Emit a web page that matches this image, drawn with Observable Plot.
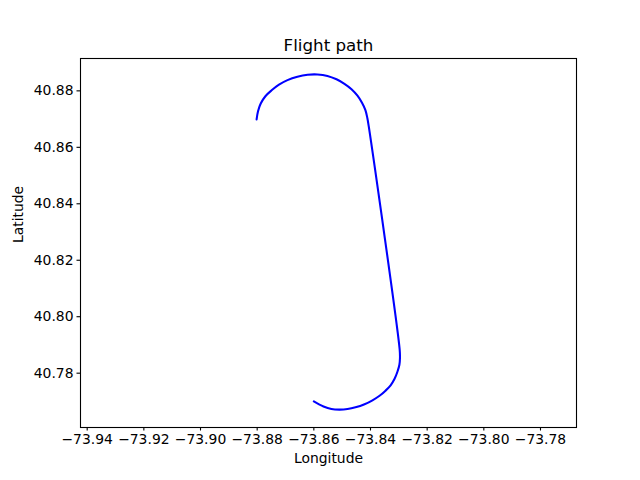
<!DOCTYPE html>
<html>
<head>
<meta charset="utf-8">
<script src="https://cdn.jsdelivr.net/npm/d3@7"></script>
<script src="https://cdn.jsdelivr.net/npm/@observablehq/plot@0.6"></script>
<style>
  html, body { margin: 0; padding: 0; background: #fff; }
  #chart { width: 640px; height: 480px; }
</style>
</head>
<body>
<div id="chart"></div>
<script>
// Flight path waypoints
const lon = [
  -73.8802, -73.8797, -73.8787, -73.8771, -73.8749, -73.8723, -73.8693,
  -73.8658, -73.8622, -73.8587, -73.8552, -73.8520, -73.8492, -73.8467,
  -73.8446, -73.8430, -73.8418, -73.8411, -73.8406,
  -73.8297, -73.8296, -73.8298, -73.8305, -73.8315, -73.8329, -73.8347,
  -73.8368, -73.8393, -73.8421, -73.8453, -73.8481, -73.8509, -73.8538,
  -73.8566, -73.8600
];
const lat = [
  40.8699, 40.8728, 40.8756, 40.8781, 40.8802, 40.8822, 40.8838,
  40.8850, 40.8857, 40.8858, 40.8853, 40.8841, 40.8825, 40.8806,
  40.8783, 40.8758, 40.8732, 40.8703, 40.8673,
  40.7883, 40.7854, 40.7830, 40.7805, 40.7780, 40.7757, 40.7738,
  40.7720, 40.7704, 40.7690, 40.7679, 40.7673, 40.7671, 40.7673,
  40.7682, 40.7700
];
const xTicks = [-73.94, -73.92, -73.90, -73.88, -73.86, -73.84, -73.82, -73.80, -73.78];
const yTicks = [40.78, 40.80, 40.82, 40.84, 40.86, 40.88];
const xDomain = [-73.94236, -73.76729];
const yDomain = [40.76076, 40.89146];
const titleText = "Flight path";
const xLabel = "Longitude";
const yLabel = "Latitude";

const path = lon.map((x, i) => ({lon: x, lat: lat[i]}));
const fmt = d3.format(".2f");

const chart = Plot.plot({
  width: 640,
  height: 480,
  marginLeft: 80,
  marginRight: 64,
  marginTop: 58,
  marginBottom: 53,
  style: {fontFamily: "DejaVu Sans", fontSize: "13.9px", color: "black", background: "white", overflow: "visible"},
  x: {domain: xDomain},
  y: {domain: yDomain},
  marks: [
    Plot.line(path, {x: "lon", y: "lat", stroke: "#0000ff", strokeWidth: 2.08, curve: "catmull-rom"}),
    Plot.frame({stroke: "black", strokeWidth: 1.1}),
    Plot.axisX({ticks: xTicks, tickFormat: fmt, tickSize: 3.5, tickPadding: 3.5, label: null, strokeWidth: 1.1, fontSize: 13.9}),
    Plot.axisY({ticks: yTicks, tickFormat: fmt, tickSize: 3.5, tickPadding: 3.5, label: null, strokeWidth: 1.1, fontSize: 13.9}),
    Plot.text([titleText], {text: d => d, frameAnchor: "top", dy: -8, lineAnchor: "bottom", fontSize: 16.7}),
    Plot.text([xLabel], {text: d => d, frameAnchor: "bottom", dy: 35, fontSize: 13.9}),
    Plot.text([yLabel], {text: d => d, frameAnchor: "left", dx: -62, rotate: -90, fontSize: 13.9})
  ]
});
document.getElementById("chart").appendChild(chart);
</script>
</body>
</html>
